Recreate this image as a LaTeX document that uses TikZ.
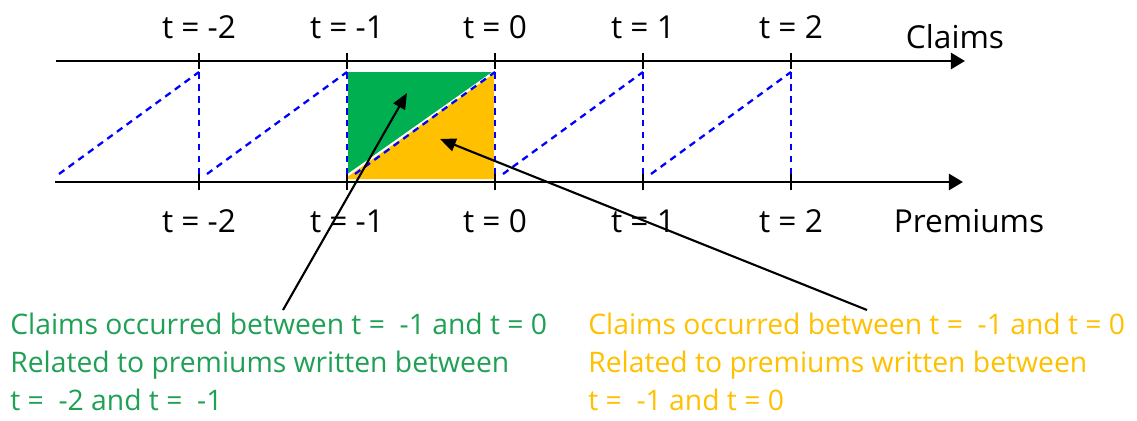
\documentclass[tikz,border=0pt]{standalone}
\usepackage{fontspec}
\setmainfont{Open Sans}
\usepackage{tikz}
\usetikzlibrary{arrows.meta,positioning}
\definecolor{claimgreen}{HTML}{00B050}
\definecolor{premorange}{HTML}{FFC000}
\definecolor{notegreen}{HTML}{1FA055}
\definecolor{lagblue}{HTML}{0000FF}

\begin{document}
\begin{tikzpicture}[
  x=0.02cm,y=-0.02cm,
  axis/.style={line width=1.7pt,-{Triangle[length=8pt,width=9pt]}},
  tickmark/.style={line width=1.6pt},
  lag/.style={lagblue,line width=1.3pt,dash pattern=on 3.8pt off 3pt},
  lbl/.style={font=\fontsize{18}{21}\selectfont,inner sep=0pt,anchor=base},
  note/.style={font=\fontsize{16.1}{21.6}\selectfont,align=left,anchor=north west,inner sep=0pt},
  ptr/.style={line width=1.2pt,-{Triangle[length=9pt,width=7.5pt]}}
]
  \useasboundingbox (0,0) rectangle (1137,420);
  \coordinate (c0) at (56,61);
  \coordinate (c1) at (965,61);
  \coordinate (p0) at (55,182);
  \coordinate (p1) at (963,182);
  \fill[claimgreen] (348,72) -- (494,72) -- (348,175) -- cycle;
  \fill[premorange] (348,175) -- (494,72) -- (494,179) -- (348,179) -- cycle;
  \draw[white,line width=1.2pt] (348,175) -- (494,72);
  \draw[axis] (c0) -- (c1);
  \draw[axis] (p0) -- (p1);
  \foreach \i in {0,...,4} {
    \pgfmathsetmacro\tx{199+148*\i}
    \pgfmathtruncatemacro\tv{\i-2}
    \draw[tickmark] (\tx,53) -- (\tx,69);
    \draw[tickmark] (\tx,174) -- (\tx,190);
    \draw[lag] (\tx,72) -- (\tx,174);
    \draw[lag] (\tx-140,174) -- (\tx,72);
    \node[lbl] (ct\i) at (\tx,38) {t = \tv};
    \node[lbl] (pt\i) at (\tx,232) {t = \tv};
  }
  \node[lbl] (claims) at (955,48) {Claims};
  \node[lbl] (premiums) at (969,232) {Premiums};
  \node[note,text=notegreen] (gnote) at (10,313)
    {Claims occurred between t = ~-1 and t = 0\\Related to premiums written between\\t = ~-2 and t = ~-1};
  \node[note,text=premorange] (onote) at (588,313)
    {Claims occurred between t = ~-1 and t = 0\\Related to premiums written between\\t = ~-1 and t = 0};
  \coordinate (gfoot) at (283,310);
  \coordinate (gtip) at (407,93);
  \coordinate (ofoot) at (867,310);
  \coordinate (otip) at (440,139);
  \draw[ptr] (gfoot) -- (gtip);
  \draw[ptr] (ofoot) -- (otip);
\end{tikzpicture}
\end{document}
